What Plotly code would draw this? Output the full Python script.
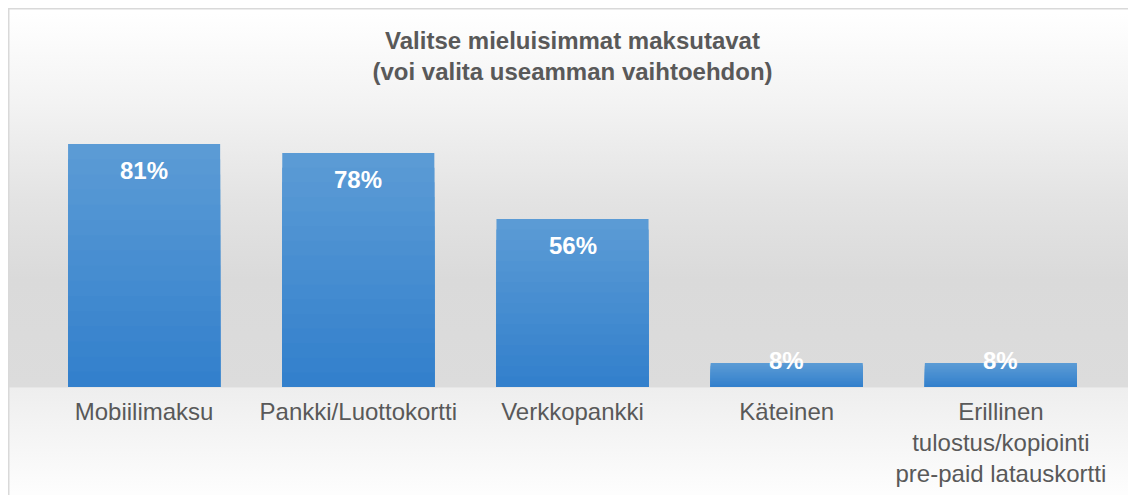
import plotly.graph_objects as go

# Datos del gráfico
categorias = [
    "Mobiilimaksu",
    "Pankki/Luottokortti",
    "Verkkopankki",
    "Käteinen",
    "Erillinen<br>tulostus/kopiointi<br>pre-paid latauskortti",
]
valores = [81, 78, 56, 8, 8]
etiquetas = ["81%", "78%", "56%", "8%", "8%"]

titulo = "Valitse mieluisimmat maksutavat<br>(voi valita useamman vaihtoehdon)"

# Tamaño y márgenes
W, H = 1136, 495
ml, mt = 29, 79
pw, ph = 1071, 300
mr, mb = W - ml - pw, H - mt - ph

# Fondo con degradado y marco (SVG en línea)
fondo_svg = (
    "data:image/svg+xml;utf8,"
    "<svg xmlns='http://www.w3.org/2000/svg' width='1136' height='495' viewBox='0 0 1136 495' preserveAspectRatio='none'>"
    "<defs><linearGradient id='g' gradientUnits='userSpaceOnUse' x1='0' y1='0' x2='0' y2='495'>"
    "<stop offset='0.01' stop-color='%23ffffff'/>"
    "<stop offset='0.19' stop-color='%23f3f3f3'/>"
    "<stop offset='0.39' stop-color='%23e3e3e3'/>"
    "<stop offset='0.55' stop-color='%23dadada'/>"
    "<stop offset='0.765' stop-color='%23dcdcdc'/>"
    "<stop offset='0.768' stop-color='%23eeeeee'/>"
    "<stop offset='0.98' stop-color='%23fdfdfd'/>"
    "</linearGradient></defs>"
    "<rect x='0.75' y='0.75' width='1200' height='600' fill='url(%23g)' stroke='%23d9d9d9' stroke-width='1.5'/>"
    "</svg>"
)

fig = go.Figure()

# Barras con degradado: capas superpuestas de oscuro (abajo) a claro (arriba)
n = 16
c_arriba = (0x5b, 0x9b, 0xd5)
c_abajo = (0x33, 0x80, 0xcc)
for k in range(n, 0, -1):
    f = k / n
    t = (k - 1) / (n - 1)
    col = tuple(round(c_abajo[i] + (c_arriba[i] - c_abajo[i]) * t) for i in range(3))
    fig.add_trace(go.Bar(
        x=categorias,
        y=[v * f for v in valores],
        marker=dict(color="rgb(%d,%d,%d)" % col, line=dict(width=0)),
        hoverinfo="skip",
        showlegend=False,
    ))

# Etiquetas de datos
for cat, v, txt in zip(categorias, valores, etiquetas):
    fig.add_annotation(
        x=cat, y=v, text="<b>%s</b>" % txt, showarrow=False,
        yanchor="middle", yshift=-26 if v >= 20 else 3,
        font=dict(family="Arial, Liberation Sans", size=24, color="white"),
    )

fig.update_layout(
    width=W, height=H,
    barmode="overlay",
    bargap=0.29,
    margin=dict(l=ml, r=mr, t=mt, b=mb),
    paper_bgcolor="white",
    plot_bgcolor="rgba(0,0,0,0)",
    title=dict(
        text="<b>%s</b>" % titulo,
        xref="paper", x=0.5, xanchor="center", y=1 - 41 / H, yanchor="middle",
        font=dict(family="Arial, Liberation Sans", size=24, color="#595959"),
    ),
    xaxis=dict(
        showgrid=False, zeroline=False, showline=False, ticks="",
        ticklabelstandoff=8, automargin=False,
        tickfont=dict(family="Arial, Liberation Sans", size=24, color="#595959"),
    ),
    yaxis=dict(range=[0, 100], visible=False, fixedrange=True),
    images=[dict(
        source=fondo_svg, xref="paper", yref="paper",
        x=-ml / pw, y=1 + mt / ph, sizex=W / pw, sizey=H / ph,
        xanchor="left", yanchor="top", sizing="stretch", layer="below",
    )],
)

fig.write_html("out.html")
